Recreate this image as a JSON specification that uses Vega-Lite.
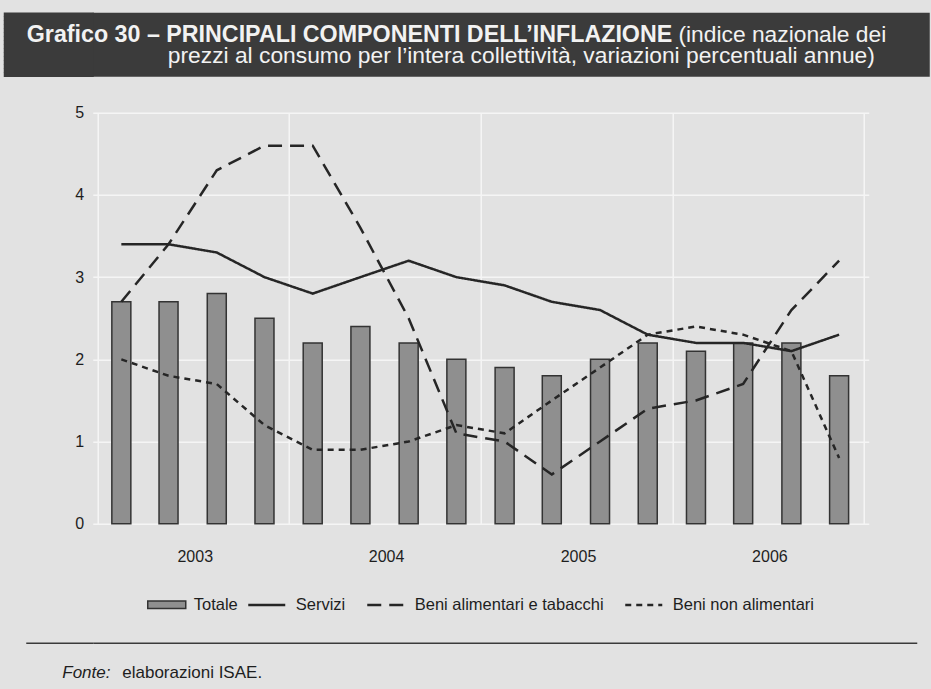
{
  "$schema": "https://vega.github.io/schema/vega-lite/v6.json",
  "background": "#e2e2e2",
  "padding": {"left": 0.75, "top": 11.75, "right": 0, "bottom": 8},
  "autosize": {"type": "pad"},
  "config": {
    "font": "Liberation Sans",
    "view": {"stroke": null},
    "axis": {"labelFont": "Liberation Sans", "titleFont": "Liberation Sans"},
    "legend": {"labelFont": "Liberation Sans", "layout": {"bottom": {"anchor": "middle", "margin": 8}}}
  },
  "datasets": {
    "inflazione": [
      {"data": "2003-02-15", "serie": "Totale", "valore": 2.7},
      {"data": "2003-05-16", "serie": "Totale", "valore": 2.7},
      {"data": "2003-08-16", "serie": "Totale", "valore": 2.8},
      {"data": "2003-11-15", "serie": "Totale", "valore": 2.5},
      {"data": "2004-02-15", "serie": "Totale", "valore": 2.2},
      {"data": "2004-05-16", "serie": "Totale", "valore": 2.4},
      {"data": "2004-08-16", "serie": "Totale", "valore": 2.2},
      {"data": "2004-11-15", "serie": "Totale", "valore": 2.0},
      {"data": "2005-02-15", "serie": "Totale", "valore": 1.9},
      {"data": "2005-05-16", "serie": "Totale", "valore": 1.8},
      {"data": "2005-08-16", "serie": "Totale", "valore": 2.0},
      {"data": "2005-11-15", "serie": "Totale", "valore": 2.2},
      {"data": "2006-02-15", "serie": "Totale", "valore": 2.1},
      {"data": "2006-05-16", "serie": "Totale", "valore": 2.2},
      {"data": "2006-08-16", "serie": "Totale", "valore": 2.2},
      {"data": "2006-11-15", "serie": "Totale", "valore": 1.8},
      {"data": "2003-02-15", "serie": "Servizi", "valore": 3.4},
      {"data": "2003-05-16", "serie": "Servizi", "valore": 3.4},
      {"data": "2003-08-16", "serie": "Servizi", "valore": 3.3},
      {"data": "2003-11-15", "serie": "Servizi", "valore": 3.0},
      {"data": "2004-02-15", "serie": "Servizi", "valore": 2.8},
      {"data": "2004-05-16", "serie": "Servizi", "valore": 3.0},
      {"data": "2004-08-16", "serie": "Servizi", "valore": 3.2},
      {"data": "2004-11-15", "serie": "Servizi", "valore": 3.0},
      {"data": "2005-02-15", "serie": "Servizi", "valore": 2.9},
      {"data": "2005-05-16", "serie": "Servizi", "valore": 2.7},
      {"data": "2005-08-16", "serie": "Servizi", "valore": 2.6},
      {"data": "2005-11-15", "serie": "Servizi", "valore": 2.3},
      {"data": "2006-02-15", "serie": "Servizi", "valore": 2.2},
      {"data": "2006-05-16", "serie": "Servizi", "valore": 2.2},
      {"data": "2006-08-16", "serie": "Servizi", "valore": 2.1},
      {"data": "2006-11-15", "serie": "Servizi", "valore": 2.3},
      {"data": "2003-02-15", "serie": "Beni alimentari e tabacchi", "valore": 2.7},
      {"data": "2003-05-16", "serie": "Beni alimentari e tabacchi", "valore": 3.4},
      {"data": "2003-08-16", "serie": "Beni alimentari e tabacchi", "valore": 4.3},
      {"data": "2003-11-15", "serie": "Beni alimentari e tabacchi", "valore": 4.6},
      {"data": "2004-02-15", "serie": "Beni alimentari e tabacchi", "valore": 4.6},
      {"data": "2004-05-16", "serie": "Beni alimentari e tabacchi", "valore": 3.6},
      {"data": "2004-08-16", "serie": "Beni alimentari e tabacchi", "valore": 2.5},
      {"data": "2004-11-15", "serie": "Beni alimentari e tabacchi", "valore": 1.1},
      {"data": "2005-02-15", "serie": "Beni alimentari e tabacchi", "valore": 1.0},
      {"data": "2005-05-16", "serie": "Beni alimentari e tabacchi", "valore": 0.6},
      {"data": "2005-08-16", "serie": "Beni alimentari e tabacchi", "valore": 1.0},
      {"data": "2005-11-15", "serie": "Beni alimentari e tabacchi", "valore": 1.4},
      {"data": "2006-02-15", "serie": "Beni alimentari e tabacchi", "valore": 1.5},
      {"data": "2006-05-16", "serie": "Beni alimentari e tabacchi", "valore": 1.7},
      {"data": "2006-08-16", "serie": "Beni alimentari e tabacchi", "valore": 2.6},
      {"data": "2006-11-15", "serie": "Beni alimentari e tabacchi", "valore": 3.2},
      {"data": "2003-02-15", "serie": "Beni non alimentari", "valore": 2.0},
      {"data": "2003-05-16", "serie": "Beni non alimentari", "valore": 1.8},
      {"data": "2003-08-16", "serie": "Beni non alimentari", "valore": 1.7},
      {"data": "2003-11-15", "serie": "Beni non alimentari", "valore": 1.2},
      {"data": "2004-02-15", "serie": "Beni non alimentari", "valore": 0.9},
      {"data": "2004-05-16", "serie": "Beni non alimentari", "valore": 0.9},
      {"data": "2004-08-16", "serie": "Beni non alimentari", "valore": 1.0},
      {"data": "2004-11-15", "serie": "Beni non alimentari", "valore": 1.2},
      {"data": "2005-02-15", "serie": "Beni non alimentari", "valore": 1.1},
      {"data": "2005-05-16", "serie": "Beni non alimentari", "valore": 1.5},
      {"data": "2005-08-16", "serie": "Beni non alimentari", "valore": 1.9},
      {"data": "2005-11-15", "serie": "Beni non alimentari", "valore": 2.3},
      {"data": "2006-02-15", "serie": "Beni non alimentari", "valore": 2.4},
      {"data": "2006-05-16", "serie": "Beni non alimentari", "valore": 2.3},
      {"data": "2006-08-16", "serie": "Beni non alimentari", "valore": 2.1},
      {"data": "2006-11-15", "serie": "Beni non alimentari", "valore": 0.8}
    ]
  },
  "spacing": 25,
  "resolve": {"scale": {"fill": "independent", "strokeDash": "independent"}},
  "vconcat": [
    {
      "width": 837,
      "height": 64,
      "data": {"values": [{"a": 0, "b": 0}]},
      "mark": {"type": "point", "opacity": 0},
      "view": {"fill": "#3b3b3b", "stroke": null},
      "encoding": {
        "x": {
          "field": "a", "type": "quantitative",
          "axis": {
            "orient": "bottom", "domain": false, "ticks": false, "labels": false, "grid": false,
            "title": ["(indice nazionale dei\u2800", "prezzi al consumo per l’intera collettività, variazioni percentuali annue)\u2002\u2800"],
            "titleAlign": "right", "titleBaseline": "alphabetic", "titleX": 810, "titleY": -35,
            "titleFontSize": 22.8, "titleFontWeight": "normal", "titleColor": "#f2f2f2", "titleLineHeight": 21
          }
        },
        "y": {
          "field": "b", "type": "quantitative",
          "scale": {"domain": [0, 64]},
          "axis": {
            "values": [2, 6, 10, 14, 18, 22, 26, 30, 34, 38, 42, 46, 50, 54, 58, 62],
            "translate": 0, "offset": -1, "domain": false, "labels": false, "grid": false,
            "ticks": true, "tickSize": 90, "tickWidth": 4.5, "tickColor": "#3b3b3b", "tickCap": "butt",
            "title": "Grafico 30 – PRINCIPALI COMPONENTI DELL’INFLAZIONE",
            "titleAngle": 0, "titleAlign": "left", "titleBaseline": "alphabetic", "titleX": -67, "titleY": 29,
            "titleFontSize": 23.25, "titleFontWeight": "bold", "titleColor": "#f2f2f2"
          }
        }
      }
    },
    {
      "spacing": 28,
      "resolve": {"scale": {"fill": "independent", "strokeDash": "independent"}},
      "vconcat": [
        {
          "width": 776,
          "height": 411,
          "data": {"name": "inflazione"},
          "encoding": {
            "x": {
              "field": "data", "type": "temporal",
              "scale": {"type": "utc", "domain": [{"year": 2003, "month": 1, "date": 1, "utc": true}, {"year": 2007, "month": 1, "date": 1, "utc": true}]},
              "axis": {
                "values": [
                  {"year": 2003, "month": 1, "date": 1, "utc": true},
                  {"year": 2004, "month": 1, "date": 1, "utc": true},
                  {"year": 2005, "month": 1, "date": 1, "utc": true},
                  {"year": 2006, "month": 1, "date": 1, "utc": true},
                  {"year": 2007, "month": 1, "date": 1, "utc": true}
                ],
                "format": "%Y",
                "labelExpr": "datum.label == '2007' ? '' : datum.label",
                "labelOffset": 97, "labelFlush": false, "labelOverlap": false, "labelPadding": 25,
                "labelFontSize": 16, "labelColor": "#1e1e1e",
                "ticks": false, "tickSize": 0, "domain": false,
                "grid": true, "gridColor": "#f5f5f5", "gridWidth": 1.5, "title": null
              }
            },
            "y": {
              "field": "valore", "type": "quantitative",
              "scale": {"domain": [0, 5]},
              "axis": {
                "values": [0, 1, 2, 3, 4, 5], "format": "d",
                "domain": false, "ticks": false, "tickSize": 0, "labelPadding": 9,
                "labelFontSize": 16, "labelColor": "#1e1e1e",
                "grid": true, "gridColor": "#f5f5f5", "gridWidth": 1.5, "title": null, "minExtent": 89
              }
            }
          },
          "layer": [
            {
              "transform": [{"filter": "datum.serie === 'Totale'"}],
              "mark": {"type": "bar", "width": 19, "stroke": "#333333", "strokeWidth": 1.5},
              "encoding": {
                "fill": {
                  "field": "serie", "type": "nominal",
                  "scale": {"domain": ["Totale"], "range": ["#8f8f8f"]},
                  "legend": {
                    "orient": "bottom", "title": null, "offset": 20,
                    "symbolType": "M-1,-0.2H1V0.2H-1Z", "symbolSize": 1444,
                    "symbolStrokeColor": "#333333", "symbolStrokeWidth": 1.5, "symbolFillColor": "#8f8f8f",
                    "labelFontSize": 16.5, "labelColor": "#1e1e1e", "labelOffset": 7, "labelLimit": 400
                  }
                }
              }
            },
            {
              "transform": [{"filter": "datum.serie !== 'Totale'"}],
              "mark": {"type": "line", "color": "#262626", "strokeWidth": 2.5},
              "encoding": {
                "strokeDash": {
                  "field": "serie", "type": "nominal",
                  "scale": {"domain": ["Servizi", "Beni alimentari e tabacchi", "Beni non alimentari"], "range": [[1, 0], [14, 8], [6, 5]]},
                  "legend": {
                    "orient": "bottom", "title": null, "offset": 20,
                    "symbolType": "stroke", "symbolSize": 1369,
                    "symbolStrokeColor": "#262626", "symbolStrokeWidth": 2.5,
                    "labelFontSize": 16.5, "labelColor": "#1e1e1e", "labelOffset": 9, "columnPadding": 16, "labelLimit": 400
                  }
                }
              }
            }
          ]
        },
        {
          "width": 824,
          "height": 2,
          "data": {"values": [{"a": 0, "b": 0}]},
          "mark": {"type": "point", "opacity": 0},
          "encoding": {
            "x": {
              "field": "a", "type": "quantitative",
              "axis": {
                "orient": "top", "domain": true, "domainColor": "#3a3a3a", "domainWidth": 1.5,
                "ticks": false, "labels": false, "grid": false,
                "title": "elaborazioni ISAE.",
                "titleAlign": "left", "titleBaseline": "alphabetic", "titleX": 29, "titleY": 35,
                "titleFontSize": 17, "titleFontWeight": "normal", "titleColor": "#1e1e1e"
              }
            },
            "y": {
              "field": "b", "type": "quantitative",
              "scale": {"domain": [0, 1]},
              "axis": {
                "values": [1], "domain": false, "labels": false, "grid": false,
                "ticks": true, "tickSize": 67, "tickWidth": 1.5, "tickColor": "#3a3a3a",
                "title": "Fonte:",
                "titleAngle": 0, "titleAlign": "left", "titleBaseline": "alphabetic", "titleX": -31, "titleY": 35,
                "titleFontSize": 17, "titleFontWeight": "normal", "titleFontStyle": "italic", "titleColor": "#1e1e1e"
              }
            }
          }
        }
      ]
    }
  ]
}
